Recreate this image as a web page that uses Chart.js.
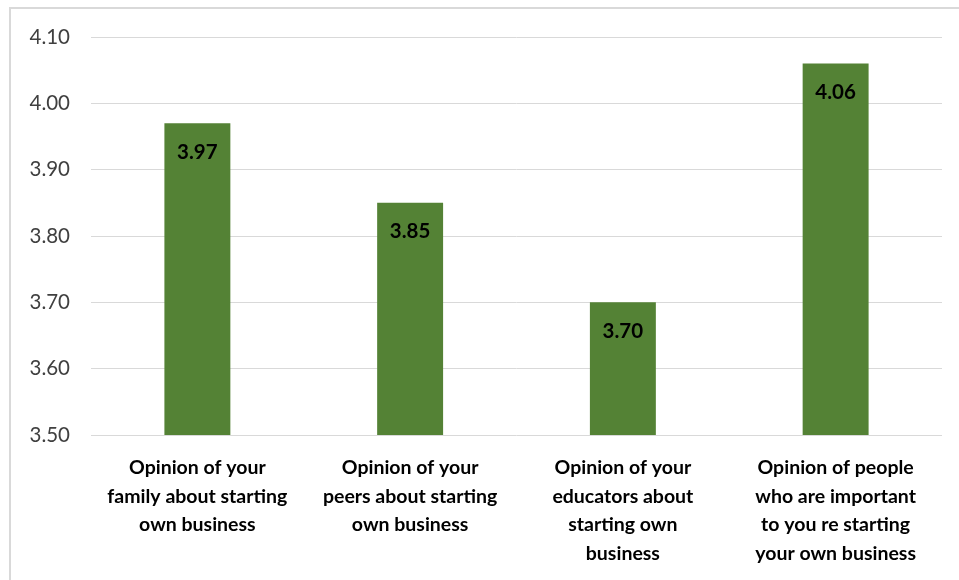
<!DOCTYPE html>
<html>
<head>
<meta charset="utf-8">
<script src="https://cdn.jsdelivr.net/npm/chart.js@4/dist/chart.umd.min.js"></script>
<style>
  html, body { margin: 0; padding: 0; background: #fff; }
  #wrap { position: relative; width: 959px; height: 580px; }
</style>
</head>
<body>
<div id="wrap"><canvas id="c" width="959" height="580"></canvas></div>
<script>
// Category labels, one array of lines per bar
const categories = [
  ["Opinion of your", "family about starting", "own business"],
  ["Opinion of your", "peers about starting", "own business"],
  ["Opinion of your", "educators about", "starting own", "business"],
  ["Opinion of people", "who are important", "to you re starting", "your own business"]
];
// Mean scores
const scores = [3.97, 3.85, 3.70, 4.06];
// Value axis
const yMin = 3.50;
const yMax = 4.10;
const yStep = 0.10;

const FONT = "Lato, 'Open Sans', sans-serif";

// White background and the light frame on the left and top edges
const framePlugin = {
  id: 'frame',
  beforeDraw(chart) {
    const ctx = chart.ctx;
    ctx.save();
    ctx.fillStyle = '#ffffff';
    ctx.fillRect(0, 0, chart.width, chart.height);
    ctx.fillStyle = '#d9d9d9';
    ctx.fillRect(9, 7, 2, chart.height - 7);
    ctx.fillRect(9, 7, chart.width - 9, 2);
    ctx.restore();
  }
};

// Value labels just inside the top of each bar
const valueLabels = {
  id: 'valueLabels',
  afterDatasetsDraw(chart) {
    const ctx = chart.ctx;
    const meta = chart.getDatasetMeta(0);
    ctx.save();
    ctx.font = "bold 20.5px " + FONT;
    ctx.fillStyle = '#000000';
    ctx.textAlign = 'center';
    ctx.textBaseline = 'middle';
    meta.data.forEach((bar, i) => {
      ctx.fillText(scores[i].toFixed(2), bar.x, bar.y + 29);
    });
    ctx.restore();
  }
};

new Chart(document.getElementById('c'), {
  type: 'bar',
  data: {
    labels: categories,
    datasets: [{
      data: scores,
      backgroundColor: '#548235',
      borderWidth: 0,
      barPercentage: 0.31,
      categoryPercentage: 1.0
    }]
  },
  options: {
    responsive: false,
    animation: false,
    layout: { padding: { top: 37, right: 17, bottom: 0, left: 0 } },
    plugins: {
      legend: { display: false },
      tooltip: { enabled: false }
    },
    scales: {
      x: {
        grid: { display: false, drawTicks: false },
        border: { display: false },
        ticks: {
          color: '#000000',
          font: { family: FONT, size: 19.5, weight: 'bold', lineHeight: 1.48 },
          padding: 18,
          maxRotation: 0,
          autoSkip: false
        },
        afterFit(scale) { scale.height = 145; }
      },
      y: {
        min: yMin,
        max: yMax,
        grid: { color: '#d9d9d9', lineWidth: 1, drawTicks: false },
        border: { display: false },
        ticks: {
          stepSize: yStep,
          color: '#404040',
          font: { family: FONT, size: 20.5 },
          padding: 21,
          callback: v => Number(v).toFixed(2)
        },
        afterFit(scale) { scale.width = 91; }
      }
    }
  },
  plugins: [framePlugin, valueLabels]
});
</script>
</body>
</html>
